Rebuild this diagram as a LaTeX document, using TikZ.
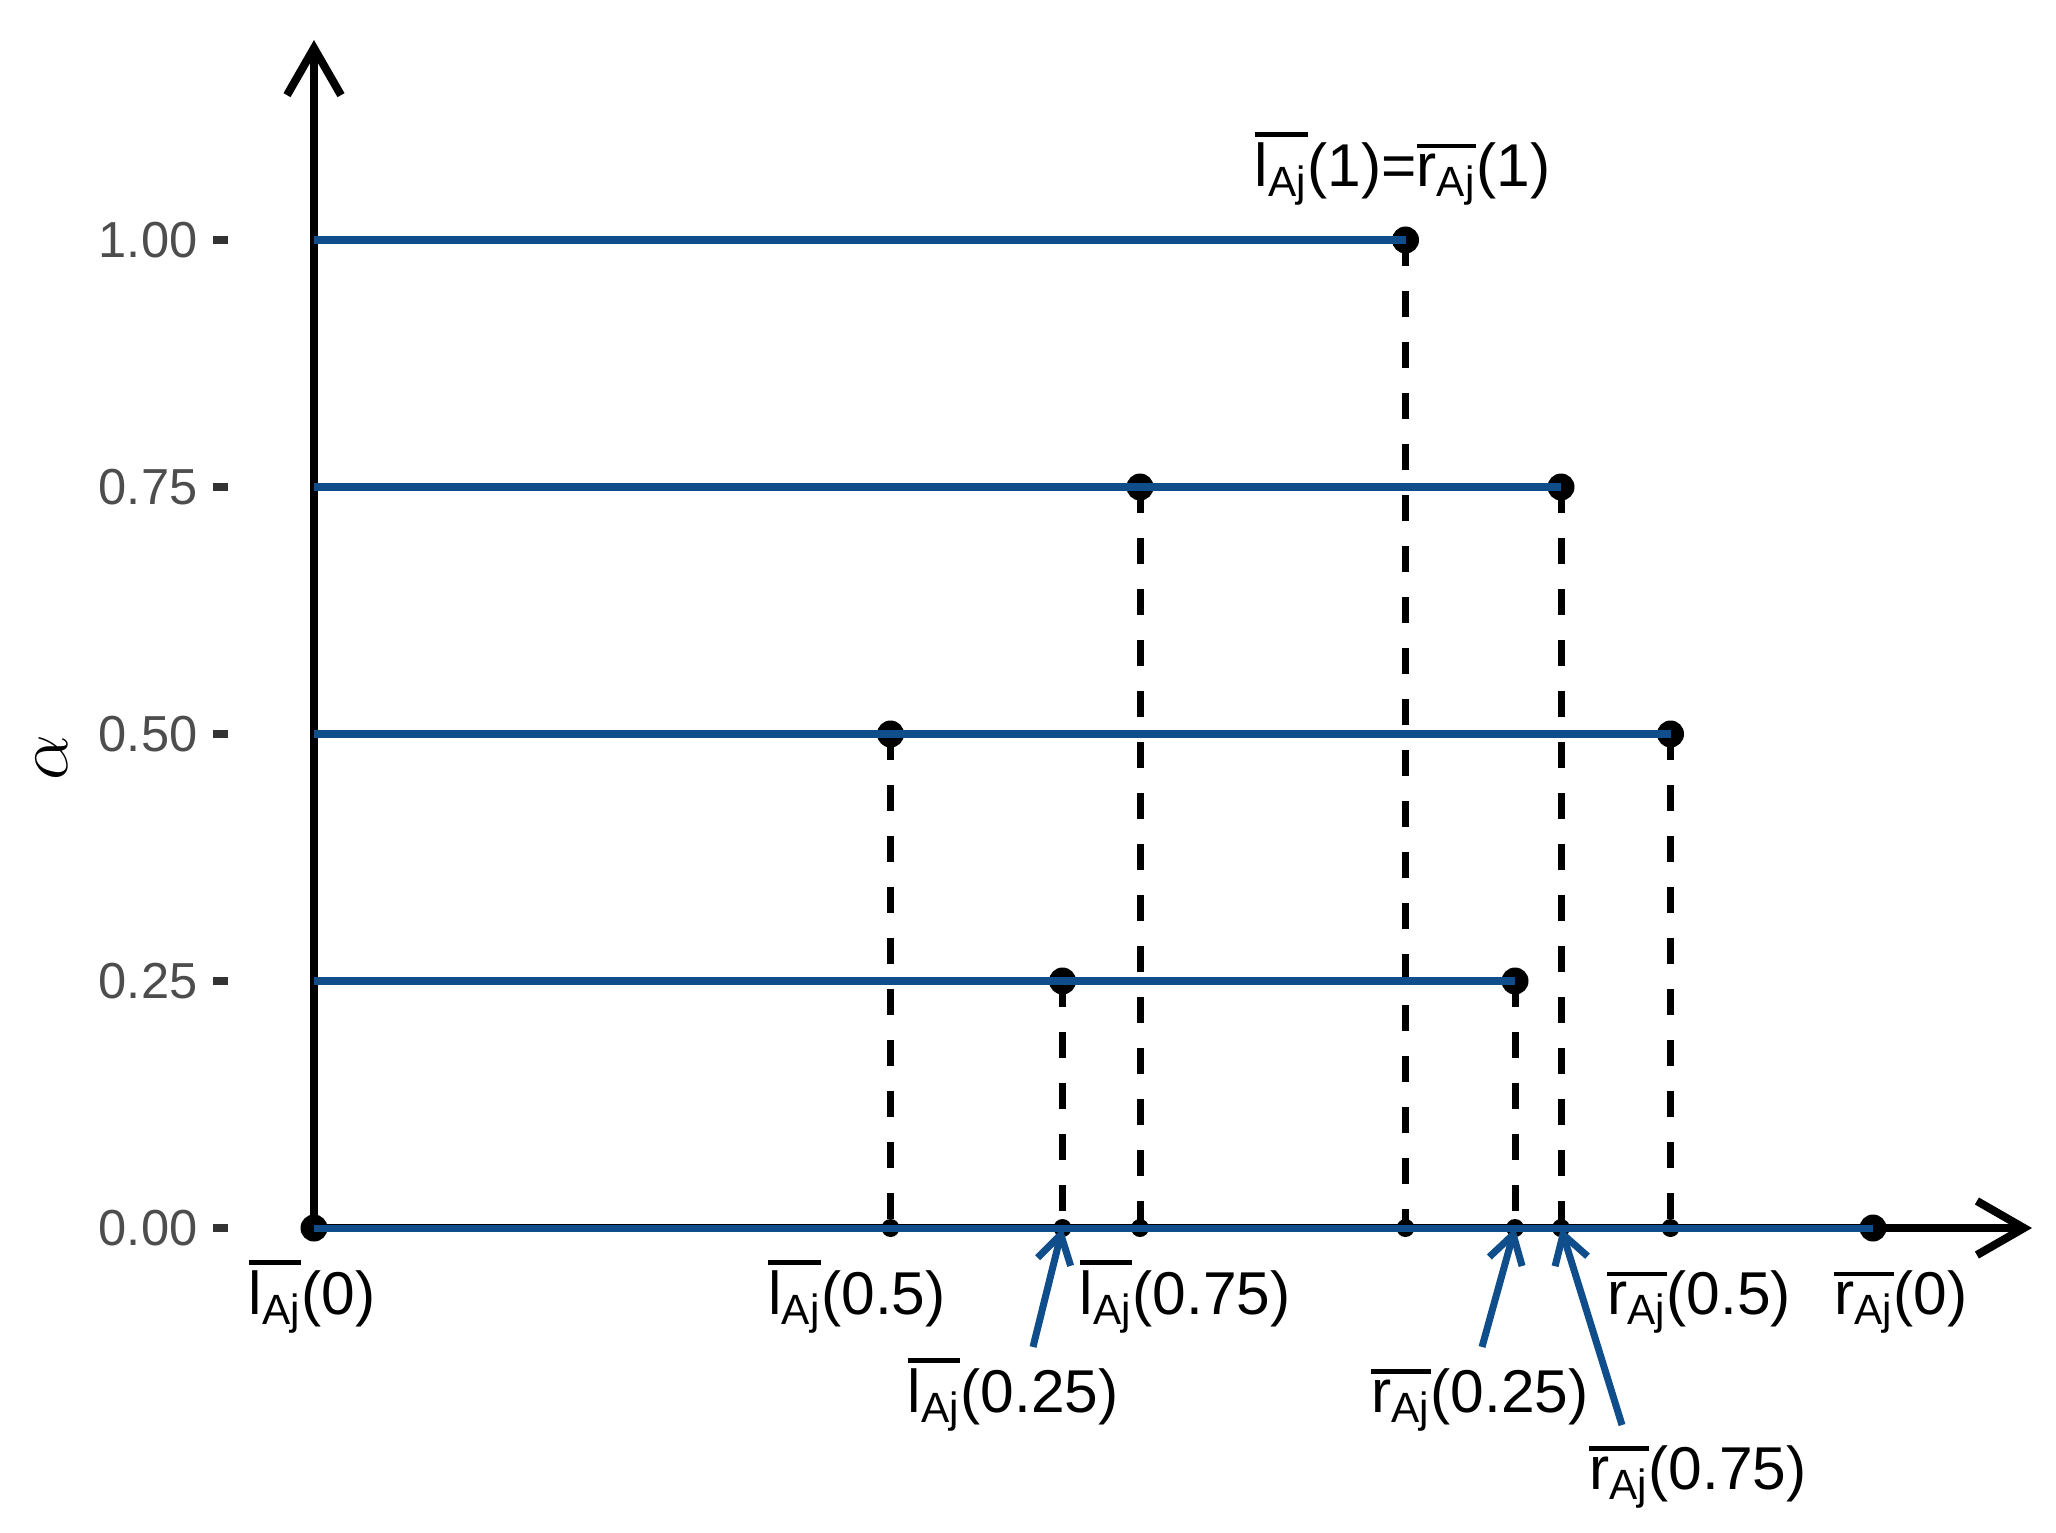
\documentclass[tikz,border=0pt]{standalone}
\usepackage{amsmath,amssymb}
\usepackage{fontspec}
\setmainfont{Liberation Sans}
\usepackage{xcolor}
\usepackage{tikz}
\usetikzlibrary{arrows.meta,positioning,calc}

\definecolor{lineblue}{HTML}{104E8B}
\definecolor{tickgray}{HTML}{333333}
\definecolor{labelgray}{HTML}{4D4D4D}

% thick bar over l_Aj and r_Aj
\newcommand{\barred}[1]{\vbox{\hrule height 1.4pt \kern 1.7pt \hbox{#1}}}
\newcommand{\lAj}{\barred{l$_{\text{Aj}}$}}
\newcommand{\rAj}{\barred{r$_{\text{Aj}}$}}

\begin{document}
\begin{tikzpicture}[x=1cm, y=9.88cm,
  axis/.style={line width=2.3pt, -{Straight Barb[length=4.7mm,width=5.4mm]}},
  level/.style={lineblue, line width=2pt},
  drop/.style={line width=2pt, dash pattern=on 2.6mm off 2.5mm},
  pointer/.style={lineblue, line width=2pt, -{Straight Barb[length=2.8mm,width=3.4mm]}},
  bigdot/.style={circle, fill, inner sep=0pt, minimum size=2.7mm},
  smalldot/.style={circle, fill, inner sep=0pt, minimum size=1.8mm},
  ytick/.style={tickgray, line width=2.3pt},
  ticklabel/.style={labelgray, font=\fontsize{14.4}{17}\selectfont, inner sep=0pt, anchor=east},
  ptlabel/.style={font=\fontsize{17.2}{20}\selectfont, inner sep=0pt, anchor=base}]
  \useasboundingbox (-3.14,-0.3077) rectangle (17.42,1.2429);

  % axes
  \coordinate (o) at (0,0);
  \coordinate (ytip) at (0,1.2024);
  \coordinate (xtip) at (17.18,0);
  \draw[axis] (o) -- (ytip);
  \draw[axis] (o) -- (xtip);

  % interval ends at each alpha level
  \coordinate (l0) at (0,0);
  \coordinate (r0) at (15.59,0);
  \coordinate (l25) at (7.485,0.25);
  \coordinate (r25) at (12.01,0.25);
  \coordinate (l5) at (5.765,0.5);
  \coordinate (r5) at (13.565,0.5);
  \coordinate (l75) at (8.26,0.75);
  \coordinate (r75) at (12.47,0.75);
  \coordinate (l1) at (10.915,1);

  % feet on the x axis
  \coordinate (fl25) at (l25|-o);
  \coordinate (fr25) at (r25|-o);
  \coordinate (fl5) at (l5|-o);
  \coordinate (fr5) at (r5|-o);
  \coordinate (fl75) at (l75|-o);
  \coordinate (fr75) at (r75|-o);
  \coordinate (fl1) at (l1|-o);

  % ticks and tick labels
  \draw[ytick] (-1.01,0) -- (-0.86,0);
  \draw[ytick] (-1.01,0.25) -- (-0.86,0.25);
  \draw[ytick] (-1.01,0.5) -- (-0.86,0.5);
  \draw[ytick] (-1.01,0.75) -- (-0.86,0.75);
  \draw[ytick] (-1.01,1) -- (-0.86,1);
  \node[ticklabel] (t000) at (-1.16,0) {0.00};
  \node[ticklabel] (t025) at (-1.16,0.25) {0.25};
  \node[ticklabel] (t050) at (-1.16,0.5) {0.50};
  \node[ticklabel] (t075) at (-1.16,0.75) {0.75};
  \node[ticklabel] (t100) at (-1.16,1) {1.00};
  \node[rotate=90, font=\fontsize{22}{24}\selectfont, inner sep=0pt] (alab) at (-2.62,0.4757) {$\alpha$};

  % dashed drops
  \draw[drop] (l25) -- (fl25);
  \draw[drop] (r25) -- (fr25);
  \draw[drop] (l5) -- (fl5);
  \draw[drop] (r5) -- (fr5);
  \draw[drop] (l75) -- (fl75);
  \draw[drop] (r75) -- (fr75);
  \draw[drop] (l1) -- (fl1);

  % points
  \node[bigdot] (dl0) at (l0) {};
  \node[bigdot] (dr0) at (r0) {};
  \node[bigdot] (dl25) at (l25) {};
  \node[bigdot] (dr25) at (r25) {};
  \node[bigdot] (dl5) at (l5) {};
  \node[bigdot] (dr5) at (r5) {};
  \node[bigdot] (dl75) at (l75) {};
  \node[bigdot] (dr75) at (r75) {};
  \node[bigdot] (dl1) at (l1) {};
  \node[smalldot] (sl25) at (fl25) {};
  \node[smalldot] (sr25) at (fr25) {};
  \node[smalldot] (sl5) at (fl5) {};
  \node[smalldot] (sr5) at (fr5) {};
  \node[smalldot] (sl75) at (fl75) {};
  \node[smalldot] (sr75) at (fr75) {};
  \node[smalldot] (sl1) at (fl1) {};

  % alpha cuts
  \draw[level] (l0) -- (r0);
  \draw[level] (r25-|o) -- (r25);
  \draw[level] (r5-|o) -- (r5);
  \draw[level] (r75-|o) -- (r75);
  \draw[level] (l1-|o) -- (l1);

  % labels
  \node[ptlabel] (lab1) at (10.885,1.0537) {\lAj(1)=\rAj(1)};
  \node[ptlabel] (labl0) at (-0.02,-0.088) {\lAj(0)};
  \node[ptlabel] (labl5) at (5.43,-0.088) {\lAj(0.5)};
  \node[ptlabel] (labl75) at (8.71,-0.088) {\lAj(0.75)};
  \node[ptlabel] (labr5) at (13.85,-0.088) {\rAj(0.5)};
  \node[ptlabel] (labr0) at (15.87,-0.088) {\rAj(0)};
  \node[ptlabel] (labl25) at (6.99,-0.187) {\lAj(0.25)};
  \node[ptlabel] (labr25) at (11.66,-0.187) {\rAj(0.25)};
  \node[ptlabel] (labr75) at (13.84,-0.265) {\rAj(0.75)};

  % pointers
  \coordinate (tl25) at (7.19,-0.1204);
  \coordinate (tr25) at (11.68,-0.1204);
  \coordinate (tr75) at (13.08,-0.1994);
  \draw[pointer] (tl25) -- (fl25);
  \draw[pointer] (tr25) -- (fr25);
  \draw[pointer] (tr75) -- (fr75);
\end{tikzpicture}
\end{document}
